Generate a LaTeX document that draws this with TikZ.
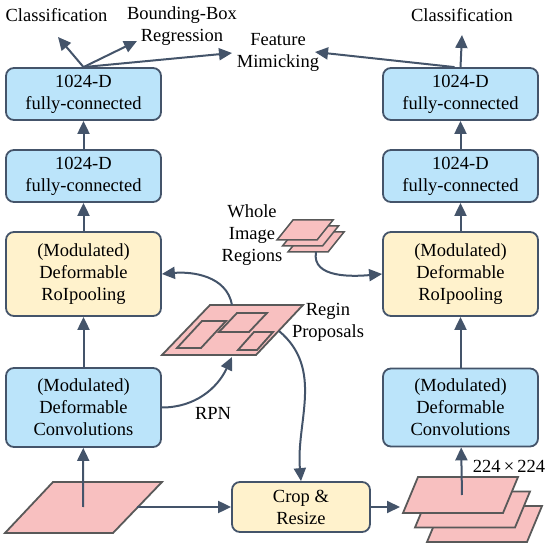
\documentclass[tikz,border=0pt]{standalone}
\usepackage{fontspec}
\setmainfont{Liberation Serif}
\usetikzlibrary{arrows.meta}
\definecolor{boxblue}{RGB}{187,228,250}
\definecolor{boxyellow}{RGB}{255,242,204}
\definecolor{sheetpink}{RGB}{248,192,192}
\definecolor{slate}{RGB}{68,84,106}
\definecolor{sheetgray}{RGB}{89,89,89}
\begin{document}
\begin{tikzpicture}[x=1pt,y=-1pt,
  every node/.style={font=\fontsize{18.5}{22}\selectfont,align=center},
  blk/.style={draw=slate,line width=1.8pt,rounded corners=8pt,fill=boxblue,minimum width=155pt,minimum height=52pt,inner sep=2pt},
  yel/.style={blk,fill=boxyellow},
  arr/.style={draw=slate,line width=2pt,-{Triangle[length=13pt,width=12pt]}},
  sheet/.style={draw=sheetgray,line width=1.8pt,fill=sheetpink}]
\path[use as bounding box] (0,0) rectangle (550,548);
% Left branch
\node[blk] (l1) at (83.5,94) {1024-D\\fully-connected};
\node[blk] (l2) at (83.5,176) {1024-D\\fully-connected};
\node[yel,minimum height=84pt] (l3) at (83.5,274) {(Modulated)\\Deformable\\RoIpooling};
\node[blk,minimum height=79pt] (l4) at (83.5,407.5) {(Modulated)\\Deformable\\Convolutions};
\draw[sheet] (53,482) -- (162,482) -- (113,533) -- (5,533) -- cycle;
\coordinate (inc) at (83,507);
\coordinate (inr) at (137,507);
\node (lcls) at (56.5,15) {Classification};
\node (bbox) at (182,26) {Bounding-Box\\Regression};
\node (fm) at (278,52) {Feature\\Mimicking};
\coordinate (clstip) at (58,37);
\coordinate (bbtip) at (137,41);
\coordinate (fmtip) at (232,53);
% Region proposals and whole image regions
\draw[sheet] (210,305) -- (303,305) -- (256,355) -- (162,355) -- cycle;
\draw[sheet] (202,321) -- (226,321) -- (201,348) -- (177,348) -- cycle;
\draw[sheet] (237,313) -- (267,313) -- (249,332) -- (219,332) -- cycle;
\draw[sheet] (254,332) -- (273,332) -- (257,350) -- (238,350) -- cycle;
\node (rp) at (328,322) {Regin\\Proposals};
\coordinate (rptop) at (232,305);
\coordinate (rpbot) at (232,357);
\coordinate (rpright) at (279,331);
\foreach \i in {2,1,0}
  \draw[sheet,line width=1.5pt,shift={(5.5*\i,6*\i)}] (293,220) -- (333,220) -- (317,240) -- (277,240) -- cycle;
\node (wir) at (252,235) {Whole\\Image\\Regions};
\coordinate (wis) at (316,252);
\node (rpn) at (213,413) {RPN};
% Crop and right branch
\node[yel,minimum width=138pt,minimum height=50pt] (crop) at (301,507) {Crop \&\\Resize};
\foreach \i in {2,1,0}
  \draw[sheet,shift={(12*\i,14.5*\i)}] (418,477) -- (518,477) -- (503,513) -- (403,513) -- cycle;
\coordinate (stkl) at (400,507);
\coordinate (stkc) at (462,495);
\node (res) at (509,466) {224\,×\,224};
\node[blk,minimum height=78pt] (r4) at (460.5,407.5) {(Modulated)\\Deformable\\Convolutions};
\node[yel,minimum height=84pt] (r3) at (460.5,274) {(Modulated)\\Deformable\\RoIpooling};
\node[blk] (r2) at (460.5,176) {1024-D\\fully-connected};
\node[blk] (r1) at (460.5,94) {1024-D\\fully-connected};
\node (rcls) at (462,15) {Classification};
\coordinate (rclstip) at (462,35);
\coordinate (rfmtip) at (315,52);
% Connectors
\draw[arr] (inc) -- (l4);
\draw[arr] (l4) -- (l3);
\draw[arr] (l3) -- (l2);
\draw[arr] (l2) -- (l1);
\draw[arr] (l1.north) -- (clstip);
\draw[arr] (l1.north) -- (bbtip);
\draw[arr] (l1.north) -- (fmtip);
\draw[arr] (l4.east) to[out=0,in=-115] (rpbot);
\draw[arr] (rptop) to[out=100,in=5] (l3.east);
\draw[arr] (rpright) to[out=-40,in=95] (crop.north);
\draw[arr] (inr) -- (crop.west);
\draw[arr] (crop.east) -- (stkl);
\draw[arr] (wis) to[out=-100,in=185] (r3.west);
\draw[arr] (stkc) -- (r4);
\draw[arr] (r4) -- (r3);
\draw[arr] (r3) -- (r2);
\draw[arr] (r2) -- (r1);
\draw[arr] (r1.north) -- (rclstip);
\draw[arr] ([xshift=-6pt]r1.north) -- (rfmtip);
\end{tikzpicture}
\end{document}
